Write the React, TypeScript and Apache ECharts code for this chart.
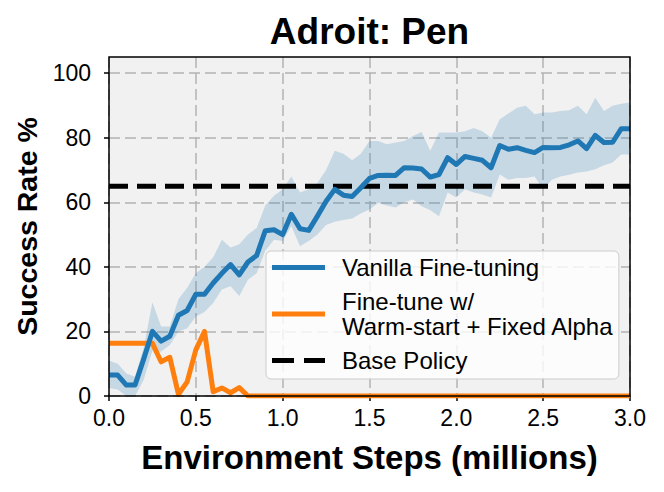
import React, { useEffect, useRef } from "react";
import * as echarts from "echarts";

const FONT = '"Liberation Sans", Arial, Helvetica, sans-serif';

const steps = [
  0, 0.05, 0.1, 0.15, 0.2, 0.25, 0.3, 0.35, 0.4, 0.45,
  0.5, 0.55, 0.6, 0.65, 0.7, 0.75, 0.8, 0.85, 0.9, 0.95,
  1.0, 1.05, 1.1, 1.15, 1.2, 1.25, 1.3, 1.35, 1.4, 1.45,
  1.5, 1.55, 1.6, 1.65, 1.7, 1.75, 1.8, 1.85, 1.9, 1.95,
  2.0, 2.05, 2.1, 2.15, 2.2, 2.25, 2.3, 2.35, 2.4, 2.45,
  2.5, 2.55, 2.6, 2.65, 2.7, 2.75, 2.8, 2.85, 2.9, 2.95,
  3.0,
];

const vanillaMean = [
  6.5, 6.5, 3.4, 3.4, 11.5, 20, 17, 18.5, 25, 26.5,
  31.5, 31.5, 35, 38, 40.7, 37.5, 41.5, 43.5, 51.2, 51.5,
  50, 56.3, 51.8, 51.3, 55.7, 60.3, 64, 62.2, 61.8, 64.5,
  67.4, 68.3, 68.4, 68.3, 70.7, 70.6, 70.3, 67.8, 68.6, 73.8,
  71.7, 74.2, 73.6, 73, 70.7, 77.6, 76.4, 76.9, 76.1, 75.4,
  77, 76.9, 77, 77.8, 79, 76.6, 80.7, 78.5, 78.6, 82.8,
  82.8,
];

const vanillaUpper = [
  11, 10, 7, 6, 15, 29, 21.5, 21.5, 30, 33.5,
  38, 40, 43, 48.4, 46, 47, 50, 52, 59, 62,
  64, 68, 63, 64, 66, 70, 76, 75, 73, 75,
  79, 79, 78, 78.5, 79, 80.5, 81.8, 76, 81.6, 81.6,
  81.6, 82, 83, 82, 80, 85.7, 87.5, 89.3, 89.9, 87.3,
  87.8, 87.8, 88.3, 88.5, 89.9, 87.3, 92.4, 88.3, 89.9, 90.5,
  90.9,
];

const vanillaLower = [
  2.5, 2, 0, 0, 5, 14, 13.8, 15.8, 20, 21,
  24.6, 26, 28.8, 33, 34, 31, 36, 38, 45, 48.4,
  48, 52.6, 46.4, 48, 50, 53, 54, 54.5, 55, 56.5,
  57.8, 59.8, 59, 58.4, 60, 60.9, 58.8, 57.5, 55.7, 63,
  61.5, 64, 63, 62.4, 61.5, 68.6, 67, 67.5, 67.5, 68,
  64, 67, 68, 68.5, 69.2, 69.5, 70.2, 71.5, 72.3, 74.8,
  74.8,
];

const warmStart = [
  16.3, 16.3, 16.3, 16.3, 16.3, 16.3, 10.6, 12, 0.5, 4.4,
  14.3, 20, 1.3, 2.5, 1, 2.6, 0, 0, 0, 0,
  0, 0, 0, 0, 0, 0, 0, 0, 0, 0,
  0, 0, 0, 0, 0, 0, 0, 0, 0, 0,
  0, 0, 0, 0, 0, 0, 0, 0, 0, 0,
  0, 0, 0, 0, 0, 0, 0, 0, 0, 0,
  0,
];

const baseX = [0, 3];
const baseY = [65, 65];

const yTicks = [0, 20, 40, 60, 80, 100];

const NAME_VANILLA = "Vanilla Fine-tuning";
const NAME_WARM = "Fine-tune w/ Warm-start + Fixed Alpha";
const NAME_BASE = "Base Policy";

// legend samples: 53px line, plus invisible extent so the text sits further right
const ICON_SOLID = "path://M0,0H53V5H0Z M65,0L65,5";
const ICON_DASHED = "path://M0,0H22V5H0Z M32,0H53V5H32Z M65,0L65,5";

export default function App() {
  const ref = useRef<HTMLDivElement>(null);

  useEffect(() => {
    if (!ref.current) return;
    const chart = echarts.init(ref.current, undefined, { renderer: "svg" });

    const pair = (ys: number[]) => steps.map((x, i) => [x, ys[i]]);

    const option: any = {
      animation: false,
      backgroundColor: "#ffffff",
      textStyle: { fontFamily: FONT },
      graphic: [
        {
          type: "text",
          x: 369.5,
          y: 31,
          style: {
            text: "Adroit: Pen",
            fontSize: 37,
            fontWeight: "bold",
            fontFamily: FONT,
            fill: "#000",
            align: "center",
            verticalAlign: "middle",
          },
        },
        {
          type: "rect",
          z: 100,
          silent: true,
          shape: { x: 109, y: 57, width: 521, height: 339 },
          style: { fill: "none", stroke: "#000", lineWidth: 1.5 },
        },
      ],
      grid: {
        left: 109,
        right: 34,
        top: 57,
        bottom: 96,
        show: true,
        backgroundColor: "#f1f1f1",
        borderWidth: 0,
        containLabel: false,
      },
      xAxis: {
        type: "value",
        min: 0,
        max: 3,
        interval: 0.5,
        name: "Environment Steps (millions)",
        nameLocation: "middle",
        nameGap: 45,
        nameTextStyle: { fontSize: 33, fontWeight: "bold", color: "#000", fontFamily: FONT },
        axisLine: { show: false, onZero: false },
        axisTick: { show: true, inside: false, length: 5, lineStyle: { color: "#000", width: 1.5 } },
        axisLabel: {
          color: "#000",
          fontSize: 23,
          margin: 10,
          fontFamily: FONT,
          formatter: (v: number) => v.toFixed(1),
        },
        splitLine: { show: true, lineStyle: { color: "#b3b3b3", width: 1.5, type: [11, 5] } },
      },
      yAxis: {
        type: "value",
        min: 0,
        max: 105,
        interval: 20,
        name: "Success Rate %",
        nameLocation: "middle",
        nameRotate: 90,
        nameGap: 68,
        nameTextStyle: { fontSize: 28.5, fontWeight: "bold", color: "#000", fontFamily: FONT },
        axisLine: { show: false, onZero: false },
        axisTick: {
          show: true,
          inside: false,
          length: 5,
          customValues: yTicks,
          lineStyle: { color: "#000", width: 1.5 },
        },
        axisLabel: {
          color: "#000",
          fontSize: 23,
          margin: 18,
          fontFamily: FONT,
          customValues: yTicks,
        },
        splitLine: { show: true, lineStyle: { color: "#b3b3b3", width: 1.5, type: [11, 5] } },
      },
      legend: {
        show: true,
        orient: "vertical",
        left: 266,
        top: 251,
        padding: [4, 5, 6, 6],
        itemGap: 9,
        itemWidth: 65,
        itemHeight: 5,
        symbolKeepAspect: false,
        backgroundColor: "rgba(255,255,255,0.8)",
        borderColor: "#cccccc",
        borderWidth: 1,
        borderRadius: 5,
        textStyle: { fontSize: 24, color: "#000", fontFamily: FONT, lineHeight: 25 },
        formatter: (name: string) => (name === NAME_WARM ? "Fine-tune w/\nWarm-start + Fixed Alpha" : name),
        data: [
          { name: NAME_VANILLA, icon: ICON_SOLID },
          { name: NAME_WARM, icon: ICON_SOLID },
          { name: NAME_BASE, icon: ICON_DASHED },
        ],
      },
      series: [
        {
          name: "band",
          type: "custom",
          silent: true,
          clip: true,
          z: 1,
          data: steps.map((x, i) => [x, vanillaLower[i], vanillaUpper[i]]),
          encode: { x: 0, y: [1, 2] },
          renderItem: (params: any, api: any) => {
            if (params.dataIndex !== 0) return { type: "group", children: [] };
            const pts: number[][] = [];
            for (let i = 0; i < steps.length; i++) pts.push(api.coord([steps[i], vanillaUpper[i]]));
            for (let i = steps.length - 1; i >= 0; i--) pts.push(api.coord([steps[i], vanillaLower[i]]));
            return {
              type: "polygon",
              shape: { points: pts },
              style: { fill: "rgba(31,119,180,0.2)", stroke: "none" },
            };
          },
        },
        {
          name: NAME_BASE,
          type: "line",
          data: baseX.map((x, i) => [x, baseY[i]]),
          symbol: "none",
          lineStyle: { color: "#000", width: 5, type: [19, 9] },
          itemStyle: { color: "#000" },
          z: 3,
        },
        {
          name: NAME_WARM,
          type: "line",
          data: pair(warmStart),
          symbol: "none",
          lineStyle: { color: "#ff7f0e", width: 5, join: "round" },
          itemStyle: { color: "#ff7f0e" },
          z: 4,
        },
        {
          name: NAME_VANILLA,
          type: "line",
          data: pair(vanillaMean),
          symbol: "none",
          lineStyle: { color: "#1f77b4", width: 5, join: "round" },
          itemStyle: { color: "#1f77b4" },
          z: 5,
        },
      ],
    };

    chart.setOption(option);
    return () => chart.dispose();
  }, []);

  return (
    <div
      ref={ref}
      style={{ position: "fixed", left: 0, top: 0, width: 664, height: 492 }}
    />
  );
}
